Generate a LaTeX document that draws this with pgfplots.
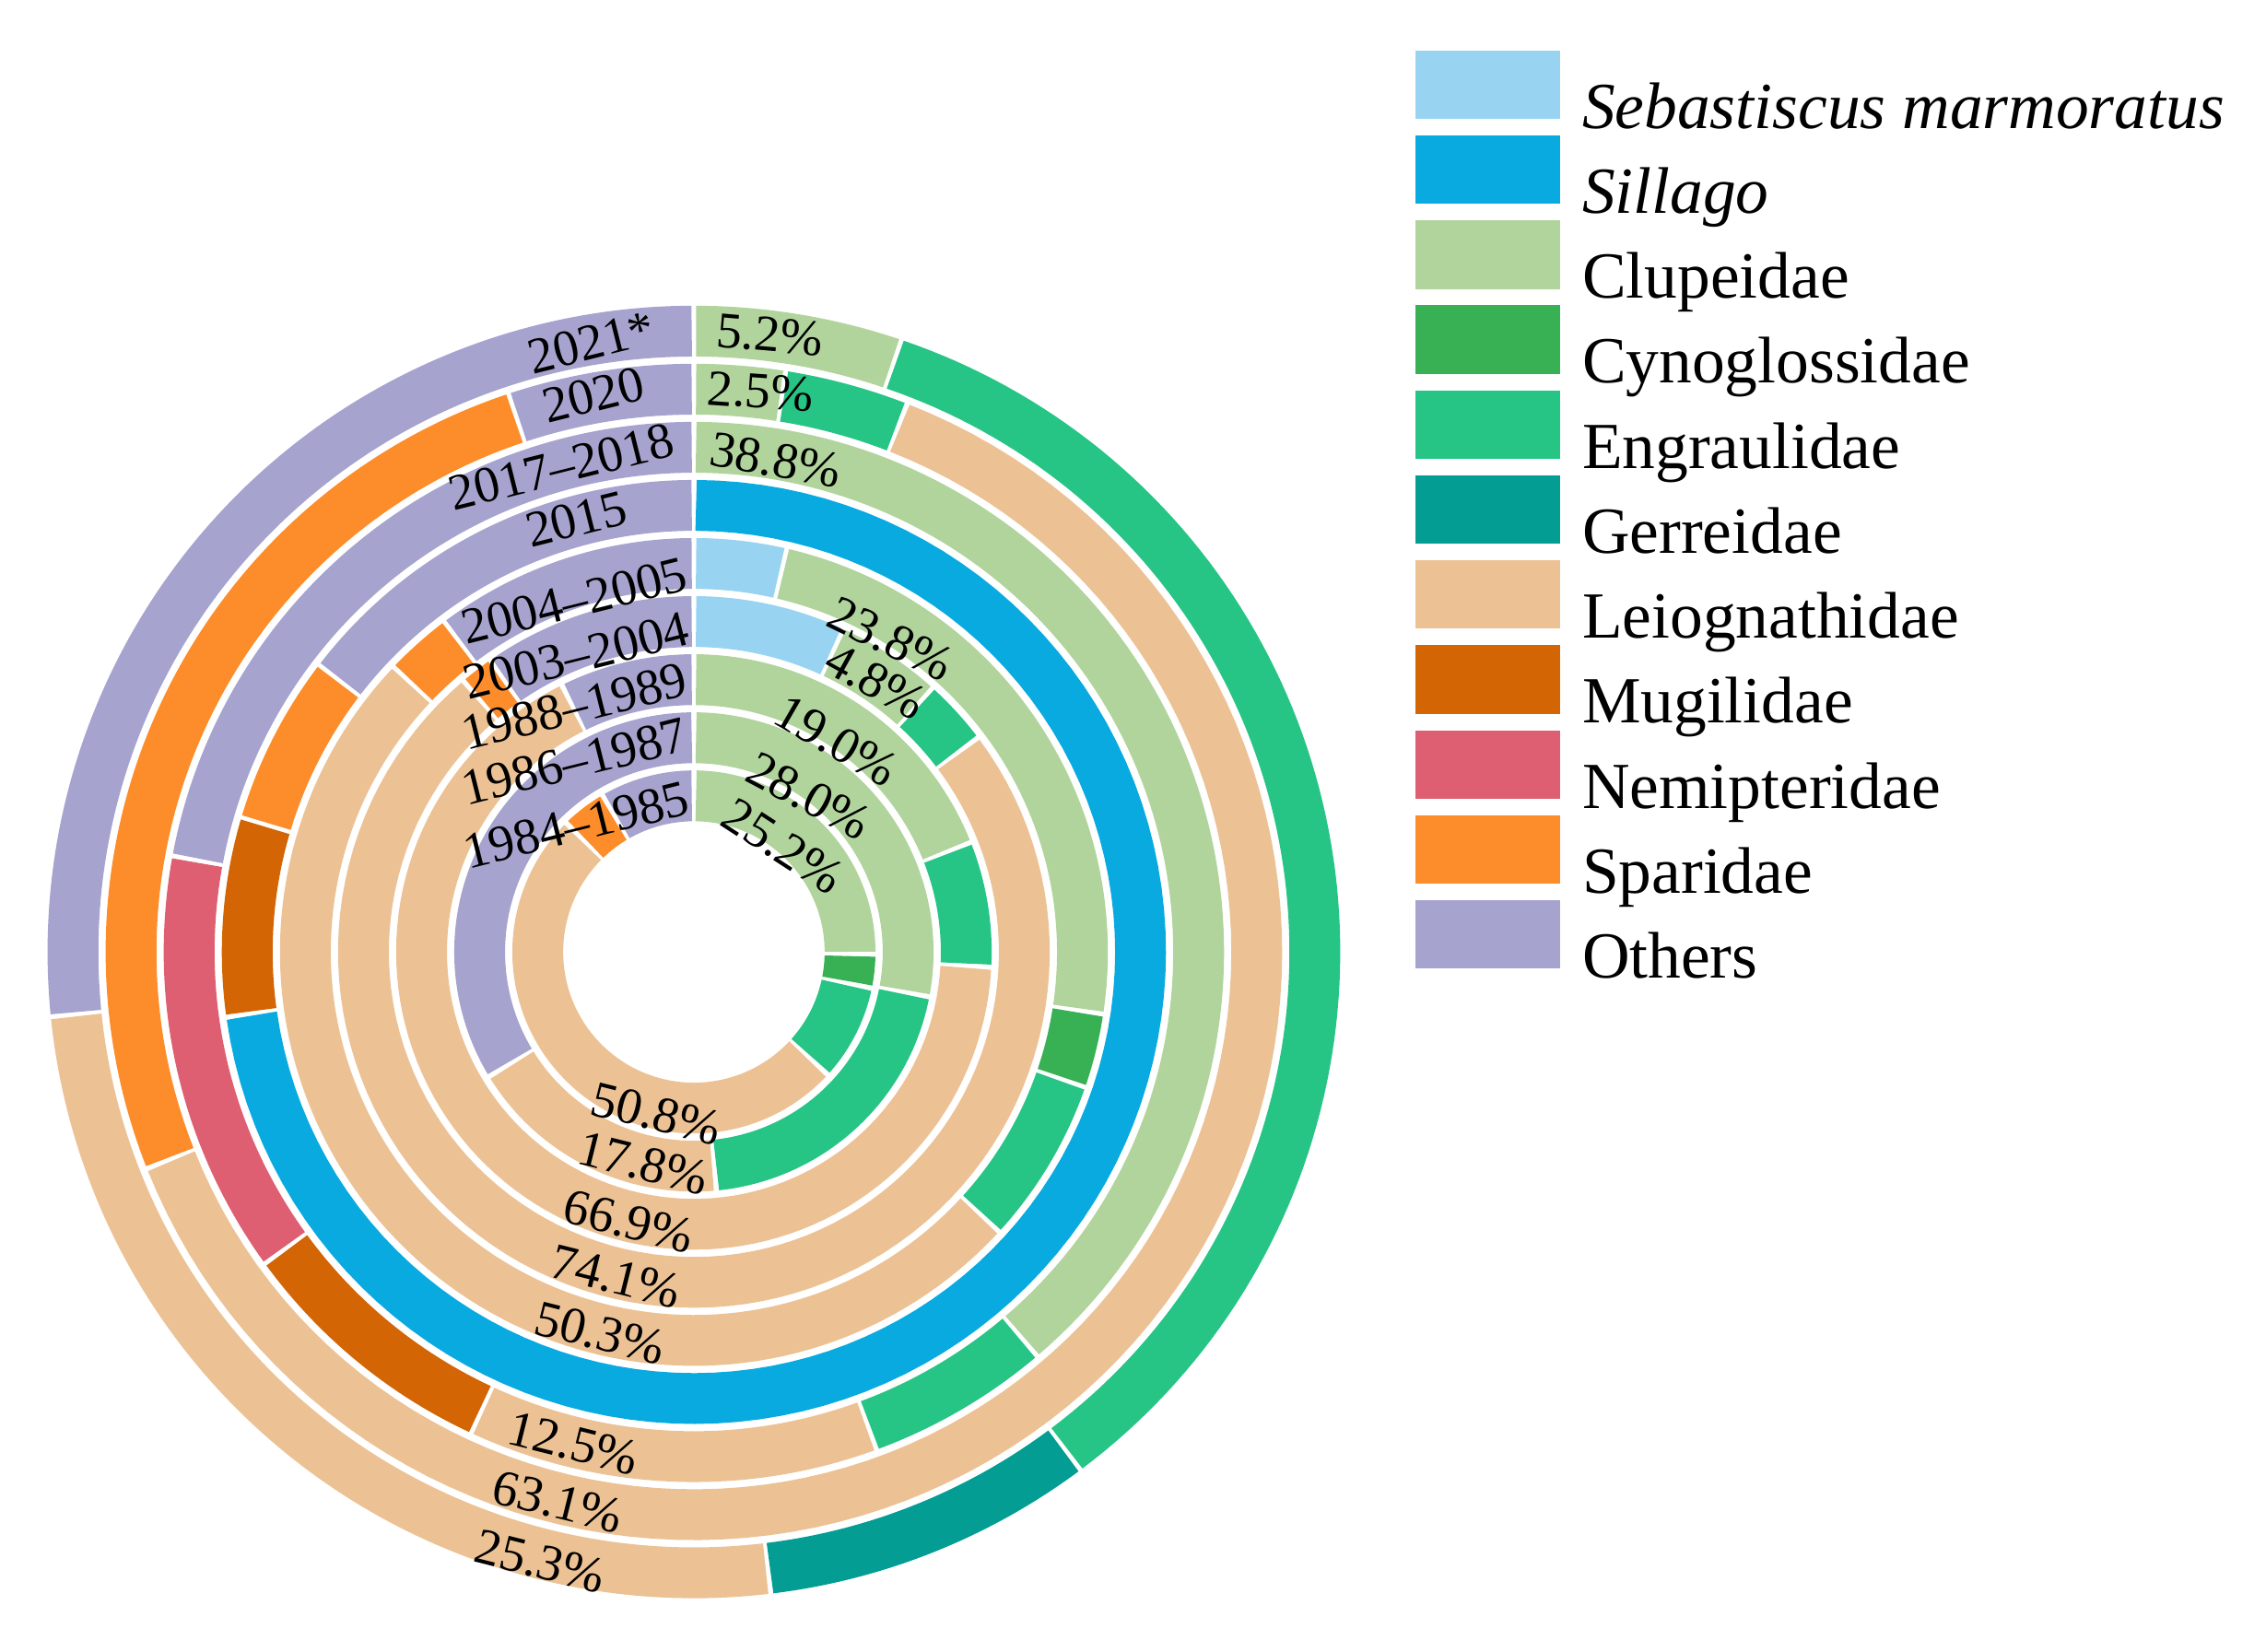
\documentclass[border=0pt]{standalone}
\usepackage{fontspec}
\setmainfont{Liberation Serif}
\usepackage{pgfplots}
\pgfplotsset{compat=1.18}

\definecolor{sebas}{HTML}{98D4F1}
\definecolor{silla}{HTML}{09AAE0}
\definecolor{clupe}{HTML}{B1D49D}
\definecolor{cynog}{HTML}{38B154}
\definecolor{engra}{HTML}{26C586}
\definecolor{gerre}{HTML}{039D93}
\definecolor{leiog}{HTML}{ECC295}
\definecolor{mugil}{HTML}{D36505}
\definecolor{nemip}{HTML}{DE5F71}
\definecolor{spari}{HTML}{FD8D2B}
\definecolor{other}{HTML}{A6A4CE}

\tikzset{lab/.style={font=\fontsize{10}{12}\selectfont, inner sep=0pt}}

% one ring: #1 = ring index from the centre, #2 = share (%)/colour, clockwise from 12 o'clock
\newcommand{\ring}[2]{%
  \pgfmathsetmacro\rmid{107.5+40*#1}%
  \pgfmathsetmacro\dgap{1.5/\rmid*57.29578}%
  \xdef\cum{0}%
  \foreach \pv/\pc in {#2}{%
    \pgfmathsetmacro\aone{3.6*\cum+\dgap}%
    \pgfmathsetmacro\atwo{3.6*(\cum+\pv)-\dgap}%
    \pgfmathsetmacro\newcum{\cum+\pv}%
    \xdef\cum{\newcum}%
    \edef\temp{\noexpand\addplot[draw=\pc, line width=3.5mm, domain=\aone:\atwo, samples=100, forget plot] ({\rmid*sin(x)},{\rmid*cos(x)});}%
    \temp
  }%
}

\begin{document}
\begin{tikzpicture}
\begin{axis}[
  hide axis,
  x=0.1mm, y=0.1mm,
  xmin=-477.7, xmax=1082.3, ymin=-482, ymax=655.5,
  clip=false,
  legend cell align=left,
  legend image code/.code={\fill[#1] (0mm,-0.86mm) rectangle (9.96mm,3.86mm);},
  legend style={at={(axis cs:496.3,621.4)}, anchor=north west, draw=none, fill=none,
    inner sep=0pt, row sep=-0.37mm,
    font=\fontsize{12.9}{15}\selectfont,
    nodes={inner sep=0pt, text height=3.86mm, text depth=0.86mm},
    /tikz/every odd column/.append style={column sep=1.5mm}},
]
% 1984-1985 ... 2021*
\ring{0}{25.2/clupe,3.0/cynog,8.6/engra,50.8/leiog,4.0/spari,8.4/other}
\ring{1}{28.0/clupe,20.5/engra,17.8/leiog,33.7/other}
\ring{2}{19.0/clupe,6.8/engra,66.9/leiog,7.3/other}
\ring{3}{6.9/sebas,4.8/clupe,3.0/engra,74.1/leiog,1.5/spari,9.7/other}
\ring{4}{3.6/sebas,23.8/clupe,2.9/cynog,6.5/engra,50.3/leiog,2.6/spari,10.3/other}
\ring{5}{72.8/silla,6.8/mugil,5.8/spari,14.6/other}
\ring{6}{38.8/clupe,5.6/engra,12.5/leiog,8.1/mugil,12.9/nemip,22.1/other}
\ring{7}{2.5/clupe,3.4/engra,63.1/leiog,25.9/spari,5.1/other}
\ring{8}{5.2/clupe,34.6/engra,8.3/gerre,25.3/leiog,26.6/other}

\addlegendimage{fill=sebas,draw=none}\addlegendentry{\textit{Sebastiscus marmoratus}}
\addlegendimage{fill=silla,draw=none}\addlegendentry{\textit{Sillago}}
\addlegendimage{fill=clupe,draw=none}\addlegendentry{Clupeidae}
\addlegendimage{fill=cynog,draw=none}\addlegendentry{Cynoglossidae}
\addlegendimage{fill=engra,draw=none}\addlegendentry{Engraulidae}
\addlegendimage{fill=gerre,draw=none}\addlegendentry{Gerreidae}
\addlegendimage{fill=leiog,draw=none}\addlegendentry{Leiognathidae}
\addlegendimage{fill=mugil,draw=none}\addlegendentry{Mugilidae}
\addlegendimage{fill=nemip,draw=none}\addlegendentry{Nemipteridae}
\addlegendimage{fill=spari,draw=none}\addlegendentry{Sparidae}
\addlegendimage{fill=other,draw=none}\addlegendentry{Others}

% year labels
\node[lab,rotate=14] at (axis cs:-70.7,419.7) {2021*};
\node[lab,rotate=14] at (axis cs:-69.3,383.7) {2020};
\node[lab,rotate=14] at (axis cs:-91.3,334) {2017--2018};
\node[lab,rotate=14] at (axis cs:-80.9,298) {2015};
\node[lab,rotate=14] at (axis cs:-82.2,241.8) {2004--2005};
\node[lab,rotate=14] at (axis cs:-80.9,203.9) {2003--2004};
\node[lab,rotate=14] at (axis cs:-82.2,169) {1988--1989};
\node[lab,rotate=14] at (axis cs:-82.2,131.1) {1986--1987};
\node[lab,rotate=14] at (axis cs:-80.9,87.5) {1984--1985};

% Clupeidae shares
\node[lab,rotate=-5] at (axis cs:52.3,425) {5.2\%};
\node[lab,rotate=-4] at (axis cs:45.8,385.8) {2.5\%};
\node[lab,rotate=-10] at (axis cs:56.3,338.5) {38.8\%};
\node[lab,rotate=-26] at (axis cs:135.3,215.5) {23.8\%};
\node[lab,rotate=-29] at (axis cs:125.3,186.5) {4.8\%};
\node[lab,rotate=-30] at (axis cs:97.8,145.5) {19.0\%};
\node[lab,rotate=-28] at (axis cs:79.3,107.5) {28.0\%};
\node[lab,rotate=-33] at (axis cs:61.3,73) {25.2\%};

% Leiognathidae shares
\node[lab,rotate=-14] at (axis cs:-25.7,-111.5) {50.8\%};
\node[lab,rotate=-14] at (axis cs:-34.7,-145.5) {17.8\%};
\node[lab,rotate=-14] at (axis cs:-44.7,-185.5) {66.9\%};
\node[lab,rotate=-14] at (axis cs:-53.7,-223.5) {74.1\%};
\node[lab,rotate=-14] at (axis cs:-64.7,-262.5) {50.3\%};
\node[lab,rotate=-14] at (axis cs:-82.7,-338.5) {12.5\%};
\node[lab,rotate=-14] at (axis cs:-93.7,-378.5) {63.1\%};
\node[lab,rotate=-14] at (axis cs:-105.7,-419.5) {25.3\%};

\coordinate (bl) at (axis cs:-477.7,-482);
\coordinate (tr) at (axis cs:1082.3,655.5);
\end{axis}
\pgfresetboundingbox
\path (bl) rectangle (tr);
\end{tikzpicture}
\end{document}
